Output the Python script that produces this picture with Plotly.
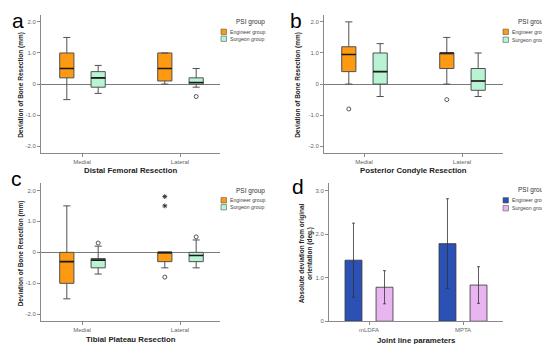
import plotly.graph_objects as go

# ---------------- data ----------------
box_categories = ["Medial", "Lateral"]
groups = ["Engineer group", "Surgeon group"]

# five-number summaries per category: [lower whisker, q1, median, q3, upper whisker]
a_engineer = [[-0.5, 0.2, 0.5, 1.0, 1.5], [0.0, 0.1, 0.5, 1.0, 1.0]]
a_surgeon = [[-0.3, -0.1, 0.2, 0.4, 0.6], [-0.1, 0.0, 0.05, 0.2, 0.5]]
a_eng_outliers = [[], []]
a_sur_outliers = [[], [-0.4]]

b_engineer = [[0.0, 0.4, 0.95, 1.2, 2.0], [0.0, 0.5, 1.0, 1.0, 1.5]]
b_surgeon = [[-0.4, 0.0, 0.4, 1.0, 1.3], [-0.4, -0.2, 0.1, 0.5, 1.0]]
b_eng_outliers = [[-0.8], [-0.5]]
b_sur_outliers = [[], []]

c_engineer = [[-1.5, -1.0, -0.3, 0.0, 1.5], [-0.5, -0.3, 0.0, 0.0, 0.0]]
c_surgeon = [[-0.7, -0.5, -0.25, -0.2, 0.2], [-0.5, -0.3, -0.1, 0.0, 0.4]]
c_eng_outliers = [[], [-0.8]]
c_eng_extremes = [[], [1.5, 1.8]]
c_sur_outliers = [[0.3], [0.5]]

d_categories = ["mLDFA", "MPTA"]
d_engineer_mean = [1.40, 1.78]
d_engineer_err = [0.85, 1.03]
d_surgeon_mean = [0.78, 0.83]
d_surgeon_err = [0.38, 0.42]

box_ticks = [2.0, 1.0, 0.0, -1.0, -2.0]
box_ticktext = ["2.0", "1.0", "0", "-1.0", "-2.0"]
d_ticks = [0.0, 1.0, 2.0, 3.0]
d_ticktext = ["0", "1.0", "2.0", "3.0"]

# ---------------- style ----------------
W, H = 550, 344
ORANGE = "#FD9A12"
GREEN = "#B8F4D4"
BLUE = "#2C51B4"
PINK = "#E8B5F1"
BOXLINE = "#505050"
GRAY = "#666666"
AXIS = "#8a8a8a"
FONT = "Arial, Liberation Sans, sans-serif"


def px(x):
    return x / W


def py(y):
    return 1 - y / H


fig = go.Figure()

panels = {
    "a": dict(n="", x0=33, x1=212, y0=7, y1=146, c0=74, c1=172),
    "b": dict(n="2", x0=316, x1=495, y0=7, y1=146, c0=356, c1=454),
    "c": dict(n="3", x0=33, x1=212, y0=177, y1=316, c0=74, c1=172),
    "d": dict(n="4", x0=321, x1=495, y0=177, y1=316, c0=361, c1=455),
}

ENG_OFF, SUR_OFF, BOX_W = -0.155, 0.165, 0.145


def add_boxes(p, stats, outliers, color, off, extremes=None):
    xa = "x" + p["n"]
    ya = "y" + p["n"]
    for i, s in enumerate(stats):
        pos = i + off
        fig.add_trace(go.Box(
            x=[pos], lowerfence=[s[0]], q1=[s[1]], median=[s[2]], q3=[s[3]],
            upperfence=[s[4]], width=BOX_W, fillcolor=color,
            line=dict(color=BOXLINE, width=1), whiskerwidth=0.5,
            boxpoints=False, showlegend=False, xaxis=xa, yaxis=ya, hoverinfo="skip"))
        fig.add_trace(go.Scatter(
            x=[pos - BOX_W / 2, pos + BOX_W / 2], y=[s[2], s[2]], mode="lines",
            line=dict(color="#1a1a1a", width=1.6), showlegend=False,
            xaxis=xa, yaxis=ya, hoverinfo="skip"))
        if outliers[i]:
            fig.add_trace(go.Scatter(
                x=[pos] * len(outliers[i]), y=outliers[i], mode="markers",
                marker=dict(symbol="circle-open", size=4, color="#555",
                            line=dict(width=1, color="#555")),
                showlegend=False, xaxis=xa, yaxis=ya, hoverinfo="skip"))
        if extremes and extremes[i]:
            fig.add_trace(go.Scatter(
                x=[pos] * len(extremes[i]), y=extremes[i], mode="markers",
                marker=dict(symbol="asterisk-open", size=4, color="#333",
                            line=dict(width=1, color="#333")),
                showlegend=False, xaxis=xa, yaxis=ya, hoverinfo="skip"))


pa, pb, pc, pd_ = panels["a"], panels["b"], panels["c"], panels["d"]
add_boxes(pa, a_engineer, a_eng_outliers, ORANGE, ENG_OFF)
add_boxes(pa, a_surgeon, a_sur_outliers, GREEN, SUR_OFF)
add_boxes(pb, b_engineer, b_eng_outliers, ORANGE, ENG_OFF)
add_boxes(pb, b_surgeon, b_sur_outliers, GREEN, SUR_OFF)
add_boxes(pc, c_engineer, c_eng_outliers, ORANGE, ENG_OFF, c_eng_extremes)
add_boxes(pc, c_surgeon, c_sur_outliers, GREEN, SUR_OFF)

# panel d bars
BAR_OFF, BAR_W = 0.165, 0.18
fig.add_trace(go.Bar(
    x=[i - BAR_OFF for i in range(len(d_categories))], y=d_engineer_mean, width=BAR_W,
    marker=dict(color=BLUE, line=dict(color="#333", width=0.8)),
    error_y=dict(type="data", array=d_engineer_err, color="#333", thickness=0.8, width=1.5),
    showlegend=False, xaxis="x4", yaxis="y4", hoverinfo="skip"))
fig.add_trace(go.Bar(
    x=[i + BAR_OFF for i in range(len(d_categories))], y=d_surgeon_mean, width=BAR_W,
    marker=dict(color=PINK, line=dict(color="#333", width=0.8)),
    error_y=dict(type="data", array=d_surgeon_err, color="#333", thickness=0.8, width=1.5),
    showlegend=False, xaxis="x4", yaxis="y4", hoverinfo="skip"))

layout = dict(
    width=W, height=H, margin=dict(l=0, r=0, t=0, b=0),
    paper_bgcolor="white", plot_bgcolor="white",
    font=dict(family=FONT, color=GRAY, size=6),
    showlegend=False,
)


def axis_pair(p, xticktext, yvals, ytext, yrange, zeroline):
    unit = (p["c1"] - p["c0"])
    xr = [-(p["c0"] - p["x0"]) / unit, 1 + (p["x1"] - p["c1"]) / unit]
    n = p["n"]
    xa = dict(domain=[px(p["x0"]), px(p["x1"])], range=xr, anchor="y" + n,
              tickvals=list(range(len(xticktext))), ticktext=xticktext,
              ticks="outside", ticklen=3, tickcolor=AXIS, showline=True,
              linecolor=AXIS, linewidth=1, showgrid=False, zeroline=False,
              tickfont=dict(size=6, color=GRAY), fixedrange=True)
    ya = dict(domain=[py(p["y1"]), py(p["y0"])], range=yrange, anchor="x" + n,
              tickvals=yvals, ticktext=ytext, ticks="outside", ticklen=3,
              tickcolor=AXIS, showline=True, linecolor=AXIS, linewidth=1,
              showgrid=False, zeroline=zeroline, zerolinecolor="#7a7a7a",
              zerolinewidth=1, tickfont=dict(size=6, color=GRAY), fixedrange=True)
    layout["xaxis" + n] = xa
    layout["yaxis" + n] = ya


axis_pair(pa, box_categories, box_ticks, box_ticktext, [-2.207, 2.223], True)
axis_pair(pb, box_categories, box_ticks, box_ticktext, [-2.207, 2.223], True)
axis_pair(pc, box_categories, box_ticks, box_ticktext, [-2.224, 2.224], True)
axis_pair(pd_, d_categories, d_ticks, d_ticktext, [0, 3.16], False)

fig.update_layout(**layout)

ann = []
shapes = []

# panel letters (y = centre of the text box, px)
for letter, x, y in [("a", 2, 13), ("b", 280, 13), ("c", 1, 172), ("d", 282, 180)]:
    ann.append(dict(text=letter, x=px(x), y=py(y), xref="paper", yref="paper",
                    xanchor="left", yanchor="middle", showarrow=False,
                    font=dict(size=21, color="black", family=FONT)))

# x titles
for text, p, y in [("Distal Femoral Resection", pa, 164), ("Posterior Condyle Resection", pb, 164),
                   ("Tibial Plateau Resection", pc, 334), ("Joint line parameters", pd_, 335)]:
    ann.append(dict(text="<b>" + text + "</b>", x=px((p["x0"] + p["x1"]) / 2), y=py(y),
                    xref="paper", yref="paper", xanchor="center", yanchor="middle",
                    showarrow=False, font=dict(size=7.8, color="#222", family=FONT)))

# y titles
for text, x, p in [("Deviation of Bone Resection (mm)", 13, pa), ("Deviation of Bone Resection (mm)", 290, pb),
                   ("Deviation of Bone Resection (mm)", 13, pc),
                   ("Absolute deviation from original<br>orientation (deg.)", 298, pd_)]:
    ann.append(dict(text="<b>" + text + "</b>", x=px(x), y=py((p["y0"] + p["y1"]) / 2 + 1),
                    xref="paper", yref="paper", xanchor="center", yanchor="middle",
                    textangle=-90, showarrow=False,
                    font=dict(size=6.5, color="#222", family=FONT)))

# legends
legend_colors = {"a": [ORANGE, GREEN], "b": [ORANGE, GREEN], "c": [ORANGE, GREEN], "d": [BLUE, PINK]}
legend_pos = {"a": (213, 14, 24, 31), "b": (495, 14, 24, 32), "c": (213, 185, 194, 201), "d": (495, 184, 194, 202)}
for k, (sx, ty, y1, y2) in legend_pos.items():
    ann.append(dict(text="PSI group", x=px(sx + 29), y=py(ty), xref="paper", yref="paper",
                    xanchor="center", yanchor="middle", showarrow=False,
                    font=dict(size=6.5, color="#333333", family=FONT)))
    for g, yy, col in zip(groups, (y1, y2), legend_colors[k]):
        shapes.append(dict(type="rect", xref="paper", yref="paper",
                           x0=px(sx), x1=px(sx + 5.5), y0=py(yy + 2.7), y1=py(yy - 2.7),
                           fillcolor=col, line=dict(color="#555", width=0.6)))
        ann.append(dict(text=g, x=px(sx + 6.5), y=py(yy), xref="paper", yref="paper",
                        xanchor="left", yanchor="middle", showarrow=False,
                        font=dict(size=5.2, color="#444444", family=FONT)))

fig.update_layout(annotations=ann, shapes=shapes)
fig.write_html("out.html")
